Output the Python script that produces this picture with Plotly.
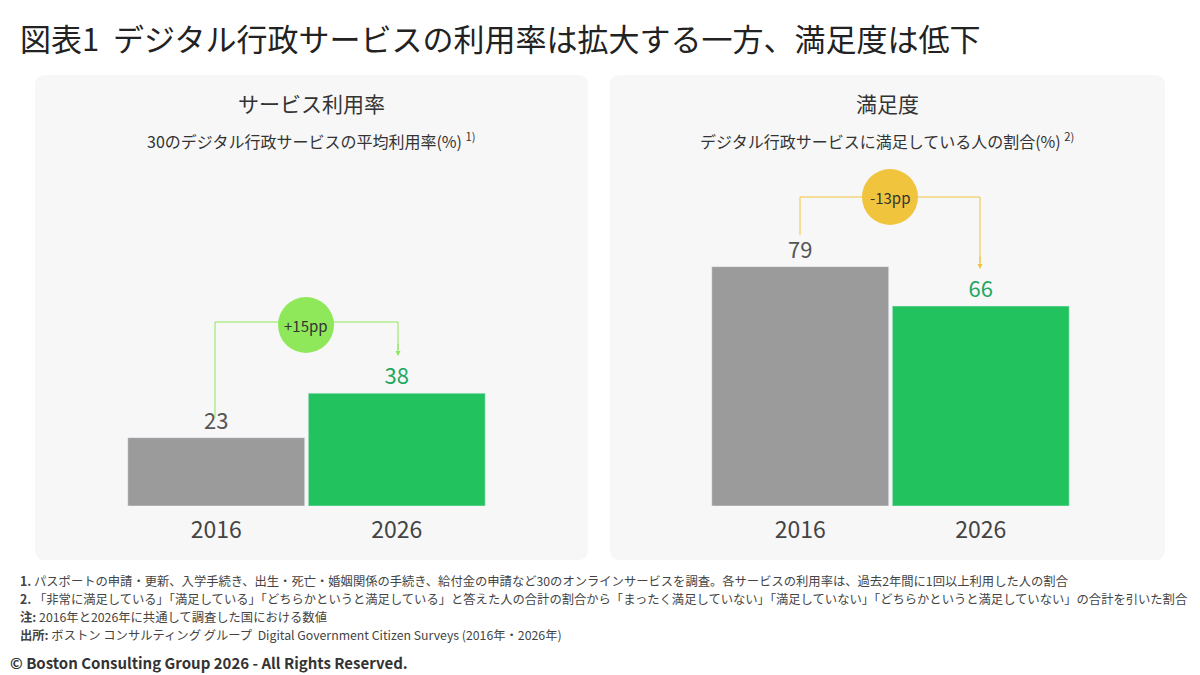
import plotly.graph_objs as go

years = ["2016", "2026"]
usage = [23, 38]
satisfaction = [79, 66]

GRAY = "#9b9b9b"
GREEN = "#22c35e"
FONT = "Noto Sans CJK JP"

fig = go.Figure()
fig.add_bar(x=years, y=usage, marker_color=[GRAY, GREEN], text=[str(v) for v in usage],
            textposition="outside", textfont=dict(size=22, color=["#555555", "#1fa862"]),
            cliponaxis=False, xaxis="x", yaxis="y")
fig.add_bar(x=years, y=satisfaction, marker_color=[GRAY, GREEN], text=[str(v) for v in satisfaction],
            textposition="outside", textfont=dict(size=22, color=["#555555", "#1fa862"]),
            cliponaxis=False, xaxis="x2", yaxis="y2")

W, H = 1200, 675
OFF = 8  # page margin offset
px = lambda x: (x - OFF) / W
py = lambda y: 1 - (y - OFF) / H

ax = dict(showgrid=False, zeroline=False, showline=False, fixedrange=True)
fig.update_layout(
    width=W, height=H, margin=dict(l=0, r=0, t=0, b=0),
    paper_bgcolor="white", plot_bgcolor="rgba(0,0,0,0)", showlegend=False,
    bargap=0.02, font=dict(family=FONT, color="#333333"),
    xaxis=dict(ax, domain=[px(126), px(487)], anchor="y", tickfont=dict(size=23, color="#444"), ticklabelstandoff=8),
    yaxis=dict(ax, domain=[py(506), py(209)], range=[0, 100], showticklabels=False),
    xaxis2=dict(ax, domain=[px(710), px(1071)], anchor="y2", tickfont=dict(size=23, color="#444"), ticklabelstandoff=8),
    yaxis2=dict(ax, domain=[py(506), py(203)], range=[0, 100], showticklabels=False),
)

shapes = []
for x0, x1 in [(35, 588), (610, 1165)]:
    r = 10
    X0, X1, Y0, Y1 = px(x0), px(x1), py(560), py(75)
    dx, dy = r / W, r / H
    path = (f"M {X0+dx},{Y0} L {X1-dx},{Y0} Q {X1},{Y0} {X1},{Y0+dy} L {X1},{Y1-dy} Q {X1},{Y1} {X1-dx},{Y1} "
            f"L {X0+dx},{Y1} Q {X0},{Y1} {X0},{Y1-dy} L {X0},{Y0+dy} Q {X0},{Y0} {X0+dx},{Y0} Z")
    shapes.append(dict(type="path", xref="paper", yref="paper", path=path,
                       fillcolor="#f7f7f7", line=dict(width=0), layer="below"))
line = dict(color="#8ee65a", width=1)
shapes.append(dict(type="path", xref="paper", yref="paper",
                   path=f"M {px(215)},{py(418)} L {px(215)},{py(322)} L {px(398)},{py(322)} L {px(398)},{py(350)}",
                   line=line))
shapes.append(dict(type="circle", xref="paper", yref="paper", x0=px(278), x1=px(334), y0=py(353), y1=py(297),
                   fillcolor="#8fe85a", line=dict(width=0)))
gline = dict(color="#f0c43c", width=1)
shapes.append(dict(type="path", xref="paper", yref="paper",
                   path=f"M {px(800)},{py(235)} L {px(800)},{py(197)} L {px(980)},{py(197)} L {px(980)},{py(263)}",
                   line=gline))
shapes.append(dict(type="circle", xref="paper", yref="paper", x0=px(862), x1=px(918), y0=py(225), y1=py(169),
                   fillcolor="#f0c43c", line=dict(width=0)))
fig.update_layout(shapes=shapes)

def txt(x, y, s, size, color="#333333", anchor="center"):
    fig.add_annotation(x=px(x), y=py(y), xref="paper", yref="paper", text=s, showarrow=False,
                       font=dict(size=size, color=color, family=FONT), xanchor=anchor, yanchor="middle")

txt(18, 38, "図表1  デジタル行政サービスの利用率は拡大する一方、満足度は低下", 31, "#222222", "left")
txt(311, 103, "サービス利用率", 21)
txt(311, 141, "30のデジタル行政サービスの平均利用率(%) <sup>1)</sup>", 16)
txt(887, 103, "満足度", 21)
txt(887, 141, "デジタル行政サービスに満足している人の割合(%) <sup>2)</sup>", 16)
txt(306, 325, "+15pp", 15)
txt(890, 197, "-13pp", 15)

for x, y1, c in [(398, 356, "#8ee65a"), (980, 269, "#f0c43c")]:
    fig.add_annotation(x=px(x), y=py(y1), ax=0, ay=-14, xref="paper", yref="paper",
                       text="", showarrow=True, arrowhead=2, arrowsize=1, arrowwidth=1, arrowcolor=c)

notes = [
    "<b>1.</b> パスポートの申請・更新、入学手続き、出生・死亡・婚姻関係の手続き、給付金の申請など30のオンラインサービスを調査。各サービスの利用率は、過去2年間に1回以上利用した人の割合",
    "<b>2.</b> 「非常に満足している」「満足している」「どちらかというと満足している」と答えた人の合計の割合から「まったく満足していない」「満足していない」「どちらかというと満足していない」の合計を引いた割合",
    "<b>注:</b> 2016年と2026年に共通して調査した国における数値",
    "<b>出所:</b> ボストン コンサルティング グループ  Digital Government Citizen Surveys (2016年・2026年)",
]
for i, n in enumerate(notes):
    txt(18, 581 + i * 18, n, 12.3, "#444444", "left")
txt(8, 662, "<b>© Boston Consulting Group 2026 - All Rights Reserved.</b>", 15, "#333333", "left")

fig.write_html("out.html")
